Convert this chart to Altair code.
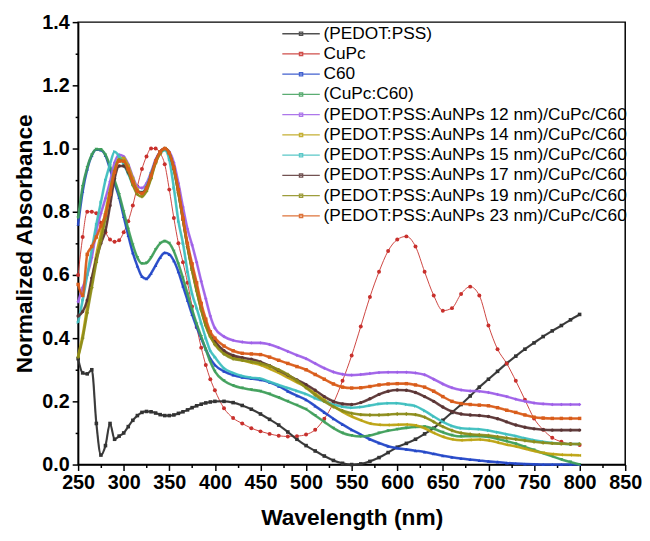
import altair as alt
import pandas as pd

# wavelength grid (nm)
WL = list(range(250, 400, 5)) + list(range(400, 801, 10))

SERIES = [
    "(PEDOT:PSS)",
    "CuPc",
    "C60",
    "(CuPc:C60)",
    "(PEDOT:PSS:AuNPs 12 nm)/CuPc/C60",
    "(PEDOT:PSS:AuNPs 14 nm)/CuPc/C60",
    "(PEDOT:PSS:AuNPs 15 nm)/CuPc/C60",
    "(PEDOT:PSS:AuNPs 17 nm)/CuPc/C60",
    "(PEDOT:PSS:AuNPs 19 nm)/CuPc/C60",
    "(PEDOT:PSS:AuNPs 23 nm)/CuPc/C60",
]
COLORS = ["#333333", "#c8302c", "#2347c8", "#3f9f5a", "#9f60e8",
          "#bca312", "#3fbfbf", "#5a3434", "#8c8c1a", "#d95c1a"]
SHAPES = ["square", "circle", "triangle-up", "triangle-down", "diamond",
          "triangle-left", "triangle-right", "circle", "cross", "square"]
LINE_W = [2.2, 1.0, 2.6, 2.6, 2.6, 2.6, 2.6, 2.6, 2.6, 2.6]
POINT_S = [13, 16, 12, 12, 12, 12, 12, 12, 12, 12]
LEGEND_SYMBOL = "M-4,0H4M-0.35,-0.35H0.35V0.35H-0.35Z"

pedot = [0.335, 0.29, 0.287, 0.30, 0.13, 0.03, 0.06, 0.13, 0.08, 0.09,
         0.10, 0.12, 0.14, 0.155, 0.165, 0.168, 0.167, 0.163, 0.158, 0.155,
         0.155, 0.157, 0.162, 0.167, 0.173, 0.18, 0.186, 0.191, 0.195, 0.198,
         0.20, 0.20, 0.196, 0.187, 0.175, 0.16, 0.143, 0.125, 0.103, 0.08,
         0.06, 0.043, 0.027, 0.013, 0.004, 0.0, 0.002, 0.01, 0.022, 0.038,
         0.055, 0.067, 0.08, 0.097, 0.115, 0.14, 0.165, 0.19, 0.217, 0.245,
         0.27, 0.295, 0.32, 0.343, 0.365, 0.385, 0.405, 0.423, 0.44, 0.458,
         0.475]
cupc = [0.60, 0.72, 0.80, 0.80, 0.795, 0.765, 0.735, 0.712, 0.705, 0.71,
        0.735, 0.77, 0.82, 0.88, 0.935, 0.975, 1.0, 1.0, 0.985, 0.95,
        0.87, 0.78, 0.70, 0.64, 0.575, 0.50, 0.435, 0.37, 0.315, 0.27,
        0.235, 0.178, 0.147, 0.13, 0.115, 0.105, 0.097, 0.091, 0.089, 0.09,
        0.095, 0.11, 0.145, 0.195, 0.265, 0.345, 0.437, 0.53, 0.61, 0.676,
        0.712, 0.722, 0.69, 0.61, 0.535, 0.487, 0.495, 0.54, 0.563, 0.535,
        0.44, 0.365, 0.32, 0.265, 0.205, 0.146, 0.11, 0.085, 0.072, 0.065,
        0.062]
c60 = [0.76, 0.865, 0.935, 0.978, 0.997, 0.995, 0.978, 0.935, 0.89, 0.845,
       0.785, 0.725, 0.67, 0.628, 0.595, 0.588, 0.605, 0.63, 0.655, 0.67,
       0.665, 0.645, 0.61, 0.565, 0.52, 0.475, 0.435, 0.40, 0.365, 0.335,
       0.315, 0.295, 0.283, 0.276, 0.272, 0.268, 0.26, 0.248, 0.232, 0.218,
       0.205, 0.185, 0.165, 0.145, 0.127, 0.11, 0.095, 0.08, 0.068, 0.058,
       0.052, 0.048, 0.044, 0.04, 0.034, 0.028, 0.023, 0.019, 0.016, 0.013,
       0.01, 0.008, 0.005, 0.003, 0.002, 0.001, 0.0, 0.0, 0.0, 0.0,
       0.0]
cupc_c60 = [0.78, 0.88, 0.94, 0.98, 0.998, 0.997, 0.98, 0.945, 0.90, 0.855,
            0.80, 0.745, 0.695, 0.655, 0.636, 0.638, 0.655, 0.68, 0.70, 0.707,
            0.70, 0.675, 0.635, 0.59, 0.54, 0.49, 0.445, 0.405, 0.365, 0.325,
            0.295, 0.265, 0.25, 0.242, 0.237, 0.232, 0.223, 0.212, 0.2, 0.188,
            0.175, 0.155, 0.135, 0.115, 0.1, 0.092, 0.089, 0.092, 0.1, 0.107,
            0.112, 0.116, 0.119, 0.12, 0.113, 0.102, 0.093, 0.089, 0.09, 0.09,
            0.087, 0.081, 0.074, 0.066, 0.056, 0.046, 0.036, 0.026, 0.016, 0.008,
            0.0]
au12 = [0.515, 0.56, 0.60, 0.655, 0.74, 0.795, 0.842, 0.895, 0.955, 0.98,
        0.975, 0.95, 0.91, 0.88, 0.875, 0.89, 0.925, 0.965, 0.99, 1.0,
        0.99, 0.955, 0.89, 0.815, 0.745, 0.695, 0.64, 0.58, 0.525, 0.47,
        0.432, 0.405, 0.393, 0.388, 0.385, 0.385, 0.38, 0.37, 0.358, 0.346,
        0.335, 0.32, 0.305, 0.293, 0.286, 0.283, 0.285, 0.288, 0.291, 0.292,
        0.292, 0.292, 0.29, 0.284, 0.27, 0.255, 0.243, 0.236, 0.233, 0.232,
        0.228, 0.222, 0.215, 0.207, 0.2, 0.195, 0.192, 0.19, 0.19, 0.19,
        0.19]
au14 = [0.343, 0.41, 0.50, 0.58, 0.665, 0.73, 0.80, 0.87, 0.93, 0.97,
        0.97, 0.945, 0.905, 0.87, 0.858, 0.87, 0.91, 0.955, 0.985, 1.0,
        0.985, 0.935, 0.86, 0.775, 0.69, 0.615, 0.55, 0.49, 0.44, 0.405,
        0.385, 0.355, 0.34, 0.33, 0.322, 0.315, 0.303, 0.29, 0.275, 0.26,
        0.245, 0.225, 0.205, 0.185, 0.167, 0.152, 0.14, 0.13, 0.126, 0.125,
        0.126, 0.127, 0.124, 0.115, 0.1, 0.088, 0.08, 0.077, 0.078, 0.079,
        0.076, 0.07, 0.063, 0.057, 0.05, 0.043, 0.037, 0.033, 0.031, 0.03,
        0.029]
au15 = [0.45, 0.52, 0.60, 0.68, 0.76, 0.83, 0.90, 0.95, 0.99, 0.975,
        0.95, 0.92, 0.885, 0.865, 0.862, 0.88, 0.92, 0.96, 0.985, 0.995,
        0.965, 0.875, 0.77, 0.70, 0.61, 0.54, 0.495, 0.447, 0.40, 0.36,
        0.34, 0.305, 0.29, 0.28, 0.275, 0.272, 0.262, 0.252, 0.242, 0.233,
        0.223, 0.21, 0.2, 0.19, 0.183, 0.18, 0.182, 0.187, 0.192, 0.194,
        0.194, 0.19, 0.185, 0.17, 0.152, 0.135, 0.122, 0.115, 0.113, 0.112,
        0.108, 0.102, 0.096, 0.09, 0.083, 0.077, 0.072, 0.068, 0.066, 0.065,
        0.065]
au17 = [0.47, 0.484, 0.52, 0.59, 0.65, 0.70, 0.74, 0.82, 0.905, 0.945,
        0.945, 0.925, 0.89, 0.865, 0.86, 0.875, 0.915, 0.96, 0.99, 1.0,
        0.985, 0.935, 0.86, 0.775, 0.69, 0.62, 0.555, 0.495, 0.445, 0.41,
        0.39, 0.36, 0.345, 0.338, 0.333, 0.325, 0.313, 0.298, 0.283, 0.268,
        0.253, 0.235, 0.215, 0.2, 0.192, 0.19, 0.196, 0.208, 0.222, 0.232,
        0.236, 0.235, 0.228, 0.215, 0.2, 0.182, 0.168, 0.16, 0.157, 0.155,
        0.152, 0.145, 0.135, 0.125, 0.118, 0.113, 0.11, 0.109, 0.109, 0.109,
        0.109]
au19 = [0.34, 0.40, 0.48, 0.56, 0.64, 0.71, 0.78, 0.86, 0.93, 0.965,
        0.96, 0.93, 0.885, 0.855, 0.848, 0.865, 0.905, 0.955, 0.985, 1.0,
        0.985, 0.935, 0.86, 0.775, 0.69, 0.615, 0.55, 0.49, 0.44, 0.405,
        0.38, 0.35, 0.335, 0.33, 0.325, 0.32, 0.312, 0.30, 0.285, 0.265,
        0.243, 0.22, 0.2, 0.183, 0.17, 0.162, 0.158, 0.157, 0.157, 0.158,
        0.16, 0.16, 0.158, 0.15, 0.135, 0.12, 0.108, 0.1, 0.096, 0.094,
        0.092, 0.088, 0.084, 0.08, 0.076, 0.072, 0.069, 0.067, 0.066, 0.065,
        0.065]
au23 = [0.57, 0.535, 0.665, 0.69, 0.72, 0.755, 0.79, 0.855, 0.925, 0.96,
        0.96, 0.935, 0.895, 0.865, 0.858, 0.875, 0.915, 0.96, 0.99, 1.0,
        0.985, 0.94, 0.87, 0.78, 0.70, 0.635, 0.575, 0.51, 0.46, 0.42,
        0.40, 0.375, 0.36, 0.352, 0.35, 0.348, 0.34, 0.33, 0.32, 0.31,
        0.30, 0.285, 0.27, 0.255, 0.245, 0.242, 0.243, 0.247, 0.252, 0.255,
        0.256, 0.256, 0.252, 0.245, 0.232, 0.215, 0.2, 0.193, 0.19, 0.188,
        0.186, 0.18, 0.172, 0.165, 0.157, 0.15, 0.147, 0.146, 0.146, 0.146,
        0.146]

VALUES = [pedot, cupc, c60, cupc_c60, au12, au14, au15, au17, au19, au23]

X_TICKS = list(range(250, 851, 25))
Y_TICKS = [round(i * 0.1, 1) for i in range(15)]

rows = []
for name, vals in zip(SERIES, VALUES):
    for i, (w, a) in enumerate(zip(WL, vals)):
        rows.append({"wl": w, "A": a, "series": name, "order": i})
df = pd.DataFrame(rows)

FONT = "Liberation Sans"

x_enc = alt.X(
    "wl:Q",
    scale=alt.Scale(domain=[250, 850], nice=False),
    axis=alt.Axis(
        title="Wavelength (nm)",
        values=X_TICKS,
        labelExpr="datum.value % 50 === 0 ? datum.label : ''",
        tickSize={"condition": {"test": "datum.value % 50 === 0", "value": 6}, "value": 3},
        labelOverlap=False,
        labelFlush=False,
        labelPadding=2,
        titlePadding=15,
    ),
)
y_enc = alt.Y(
    "A:Q",
    scale=alt.Scale(domain=[0, 1.4], nice=False),
    axis=alt.Axis(
        title="Normalized Absorbance",
        values=Y_TICKS,
        labelExpr="round(datum.value * 10) % 2 === 0 ? format(datum.value, '.1f') : ''",
        tickSize={"condition": {"test": "round(datum.value * 10) % 2 === 0", "value": 6}, "value": 3},
        labelOverlap=False,
        labelPadding=3,
        titlePadding=5,
    ),
)

base = alt.Chart(df)

# thin base lines carrying the colour legend
lines = base.mark_line(interpolate="monotone", strokeWidth=1, opacity=0.9).encode(
    x=x_enc,
    y=y_enc,
    color=alt.Color(
        "series:N",
        scale=alt.Scale(domain=SERIES, range=COLORS),
        legend=alt.Legend(
            title=None,
            orient="none",
            legendX=217,
            legendY=3,
            labelFont=FONT,
            labelFontSize=17.5,
            labelColor="black",
            labelLimit=500,
            labelOffset=14,
            symbolType=LEGEND_SYMBOL,
            symbolSize=90,
            symbolStrokeWidth=1.3,
            symbolOpacity=0.85,
            rowPadding=1.5,
        ),
    ),
    order="order:Q",
)

series_layers = []
for name, col, shp, sz, lw in zip(SERIES, COLORS, SHAPES, POINT_S, LINE_W):
    sub = base.transform_filter(alt.datum.series == name)
    if lw > 1.0:
        series_layers.append(
            sub.mark_line(interpolate="monotone", strokeWidth=lw, color=col, opacity=0.9)
            .encode(x=x_enc, y=y_enc, order="order:Q")
        )
    series_layers.append(
        sub.mark_point(filled=True, opacity=1, color=col, shape=shp, size=sz)
        .encode(x=x_enc, y=y_enc)
    )

chart = (
    alt.layer(lines, *series_layers)
    .properties(
        width=554,
        height=448,
        autosize=alt.AutoSizeParams(type="none"),
        padding={"left": 71, "top": 11, "right": 17, "bottom": 66},
        background="white",
    )
    .configure_view(stroke="black", strokeWidth=1.5)
    .configure_axis(
        labelFont=FONT,
        labelFontSize=20,
        labelFontWeight="bold",
        labelColor="black",
        titleFont=FONT,
        titleFontSize=23,
        titleFontWeight="bold",
        titleColor="black",
        domainColor="black",
        domainWidth=1.5,
        tickColor="black",
        tickWidth=1.5,
        grid=False,
    )
)

chart.save("out.html", embed_options={"renderer": "svg", "actions": False})
